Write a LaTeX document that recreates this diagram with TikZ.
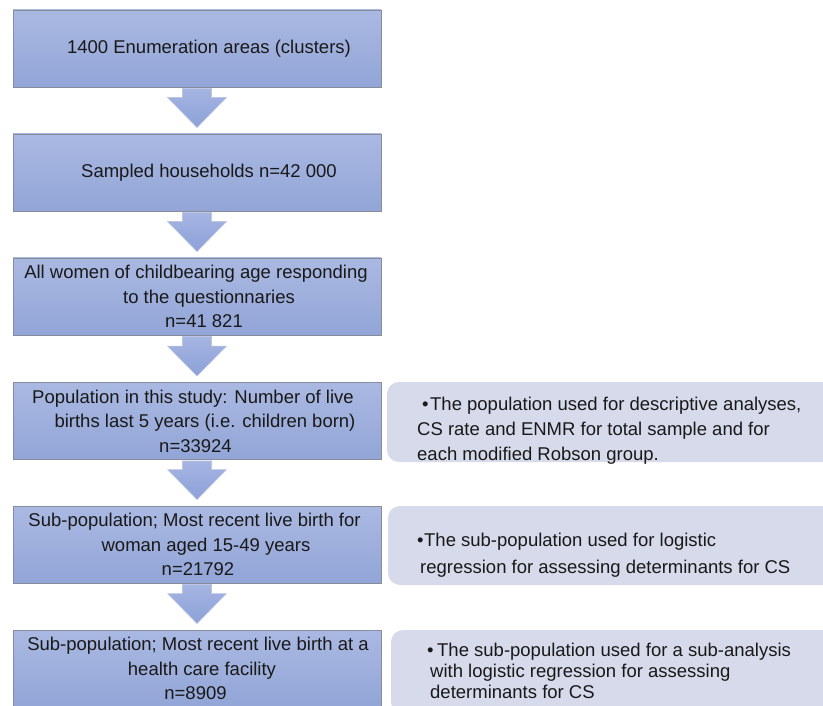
\documentclass[tikz,border=0pt]{standalone}
\usepackage{fontspec}
\setmainfont{Liberation Sans}
\usetikzlibrary{calc}
\definecolor{boxtop}{RGB}{170,185,226}
\definecolor{boxbot}{RGB}{146,165,215}
\definecolor{boxline}{RGB}{135,140,155}
\definecolor{arrtop}{RGB}{166,181,226}
\definecolor{arrbot}{RGB}{140,161,216}
\definecolor{arrline}{RGB}{190,198,225}
\definecolor{notefill}{RGB}{214,218,235}
\definecolor{txt}{RGB}{25,25,25}
\begin{document}
\begin{tikzpicture}[x=1pt,y=-1pt,
  stage/.style={rectangle, minimum width=368pt, minimum height=77pt, inner sep=0pt,
    top color=boxtop, bottom color=boxbot, draw=boxline, line width=0.9pt,
    align=center, text=txt, font=\fontsize{18.5pt}{24.5pt}\selectfont},
  note/.style={rectangle, rounded corners=12pt, fill=notefill, draw=none, inner sep=0pt},
  notetext/.style={anchor=north west, inner sep=0pt, align=left, text=txt},
  flow/.style={top color=arrtop, bottom color=arrbot, draw=arrline, line width=0.6pt,
    to path={let \p1=(\tikztostart), \p2=(\tikztotarget) in
      (\x1-14.5pt,\y1-1pt) -- (\x1+14.5pt,\y1-1pt) -- (\x1+14.5pt,\y2+36pt)
      -- (\x1+29.5pt,\y2+36pt) -- (\x1,\y2+6pt) -- (\x1-29.5pt,\y2+36pt)
      -- (\x1-14.5pt,\y2+36pt) -- cycle}}
]
\useasboundingbox (0,0) rectangle (823,706);
\clip (0,0) rectangle (823,706);

% main stages
\node[stage] (b1) at (197,48.5) {\hspace*{24pt}1400 Enumeration areas (clusters)};
\node[stage] (b2) at (197,172.5) {\hspace*{24pt}Sampled households n=42 000};
\node[stage] (b3) at (197,296.5) {\hspace*{-2pt}All women of childbearing age responding\\
  \hspace*{24pt}to the questionnaries\\ \hspace*{14pt}n=41 821};
\node[stage] (b4) at (197,421) {\hspace*{-8pt}Population in this study: Number of live\\
  \hspace*{16pt}births last 5 years (i.e. children born)\\ \hspace*{-3pt}n=33924};
\node[stage] (b5) at (197,544.5) {\hspace*{-5pt}Sub-population; Most recent live birth for\\
  \hspace*{18pt}woman aged 15-49 years\\ \hspace*{2pt}n=21792};
\node[stage] (b6) at (197,668.5) {\hspace*{2pt}Sub-population; Most recent live birth at a\\
  \hspace*{10pt}health care facility\\ \hspace*{-3pt}n=8909};

% arrows
\path[flow] (b1.south) to (b2.north);
\path[flow] (b2.south) to (b3.north);
\path[flow] (b3.south) to (b4.north);
\path[flow] (b4.south) to (b5.north);
\path[flow] (b5.south) to (b6.north);

% notes
\node[note, minimum width=453pt, minimum height=80pt] (r1) at (613.5,422) {};
\node[note, minimum width=452pt, minimum height=79pt] (r2) at (614,545.5) {};
\node[note, minimum width=449pt, minimum height=84pt] (r3) at (615.5,672) {};

\node[notetext, font=\fontsize{18.5pt}{25pt}\selectfont] (t1) at (417,396.5)
  {\hspace*{5pt}•\hspace{1.5pt}The population used for descriptive analyses,\\
   CS rate and ENMR for total sample and for\\ each modified Robson group.};
\node[notetext, font=\fontsize{18.5pt}{27pt}\selectfont] (t2) at (417,532.5)
  {•\hspace{0.5pt}The sub-population used for logistic\\
   \hspace*{3pt}regression for assessing determinants for CS};
\node[notetext, font=\fontsize{18.5pt}{21pt}\selectfont] (t3) at (427,642.5)
  {•\hspace{3.5pt}The sub-population used for a sub-analysis\\
   \hspace*{3pt}with logistic regression for assessing\\
   \hspace*{3pt}determinants for CS};
\end{tikzpicture}
\end{document}
